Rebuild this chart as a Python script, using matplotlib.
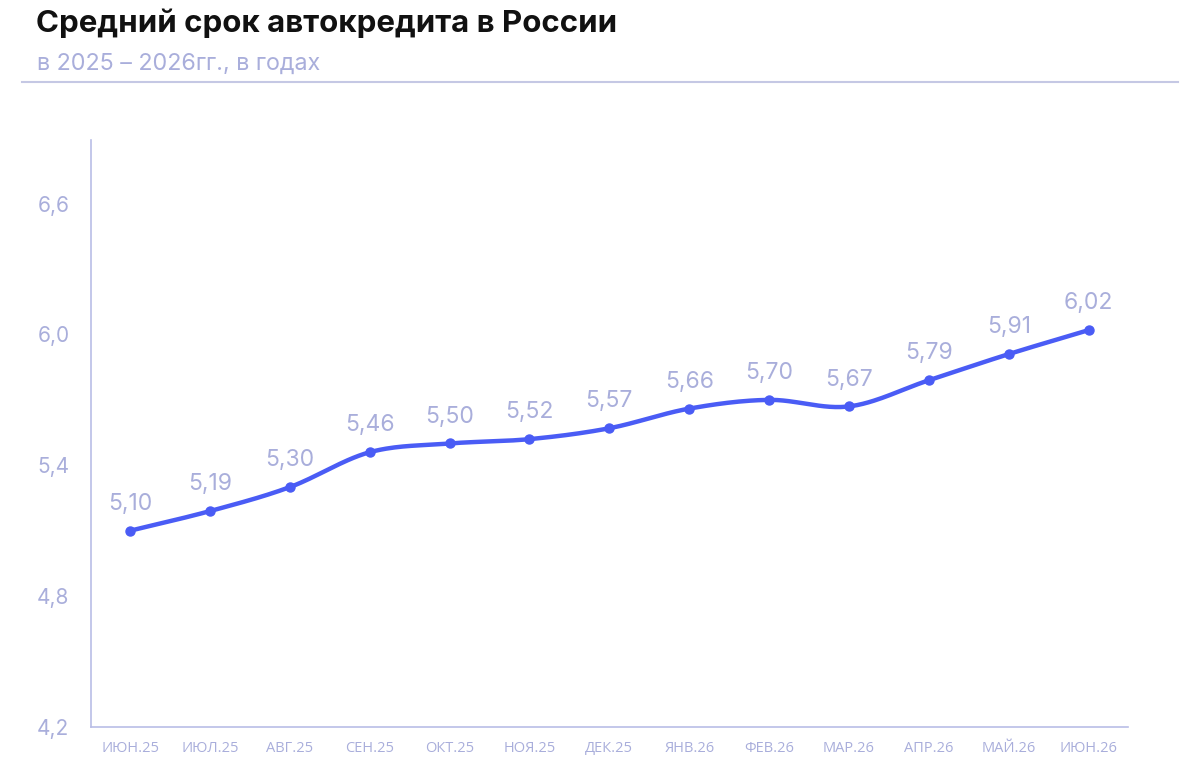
# Средний срок автокредита в России
import numpy as np
import matplotlib.pyplot as plt
from matplotlib.lines import Line2D

# Данные
months = ['ИЮН.25', 'ИЮЛ.25', 'АВГ.25', 'СЕН.25', 'ОКТ.25', 'НОЯ.25', 'ДЕК.25',
          'ЯНВ.26', 'ФЕВ.26', 'МАР.26', 'АПР.26', 'МАЙ.26', 'ИЮН.26']
term = [5.10, 5.19, 5.30, 5.46, 5.50, 5.52, 5.57, 5.66, 5.70, 5.67, 5.79, 5.91, 6.02]
yticks = [4.2, 4.8, 5.4, 6.0, 6.6]

line_c = '#4a5cf5'
soft_c = '#a9aedb'
axis_c = '#b9bde6'

plt.rcParams['font.family'] = ['Inter', 'DejaVu Sans']

x = np.arange(len(term))
y = np.array(term)

# сглаженная линия (Catmull-Rom) через точки
def smooth(xp, yp, n=30):
    px = np.concatenate([[2*xp[0]-xp[1]], xp, [2*xp[-1]-xp[-2]]])
    py = np.concatenate([[2*yp[0]-yp[1]], yp, [2*yp[-1]-yp[-2]]])
    xs, ys = [], []
    t = np.linspace(0, 1, n)
    for i in range(1, len(px)-2):
        for arr, out in ((px, xs), (py, ys)):
            p0, p1, p2, p3 = arr[i-1], arr[i], arr[i+1], arr[i+2]
            out.extend(0.5*((2*p1) + (-p0+p2)*t + (2*p0-5*p1+4*p2-p3)*t**2
                            + (-p0+3*p1-3*p2+p3)*t**3))
    return np.array(xs), np.array(ys)

fig = plt.figure(figsize=(12, 7.8), dpi=100)
ax = fig.add_axes([0.0758, 0.068, 0.864, 0.752])

sx, sy = smooth(x.astype(float), y)
ax.plot(sx, sy, color=line_c, lw=3.2, solid_capstyle='round', zorder=3)
ax.plot(x, y, 'o', color=line_c, ms=6.5, zorder=4)

for xi, yi in zip(x, y):
    ax.annotate(f'{yi:.2f}'.replace('.', ','), (xi, yi), xytext=(0, 15),
                textcoords='offset points', ha='center', va='baseline',
                fontsize=16.5, color=soft_c)

ax.set_xlim(-0.49, len(term) - 0.51)
ax.set_ylim(4.2, 6.89)
ax.set_yticks(yticks)
ax.set_yticklabels([f'{v:.1f}'.replace('.', ',') for v in yticks])
ax.set_xticks(x)
ax.set_xticklabels(months, family='Open Sans', fontstretch='normal')

ax.tick_params(axis='y', length=0, pad=15.5, labelsize=15, labelcolor=soft_c)
ax.tick_params(axis='x', length=0, pad=10, labelsize=10.5, labelcolor=soft_c)

for s in ['top', 'right']:
    ax.spines[s].set_visible(False)
for s in ['left', 'bottom']:
    ax.spines[s].set_color(axis_c)
    ax.spines[s].set_linewidth(1.2)

fig.text(0.03, 1 - 32/780, 'Средний срок автокредита в России', fontsize=22.5,
         fontweight='bold', color='#111111', va='baseline')
fig.text(0.031, 1 - 70/780, 'в 2025 – 2026гг., в годах', fontsize=16.8,
         color=soft_c, va='baseline')
fig.add_artist(Line2D([0.018, 0.982], [1 - 82/780, 1 - 82/780],
                      color='#c5c8e4', lw=1.5))

plt.savefig('out.png', dpi=100)
